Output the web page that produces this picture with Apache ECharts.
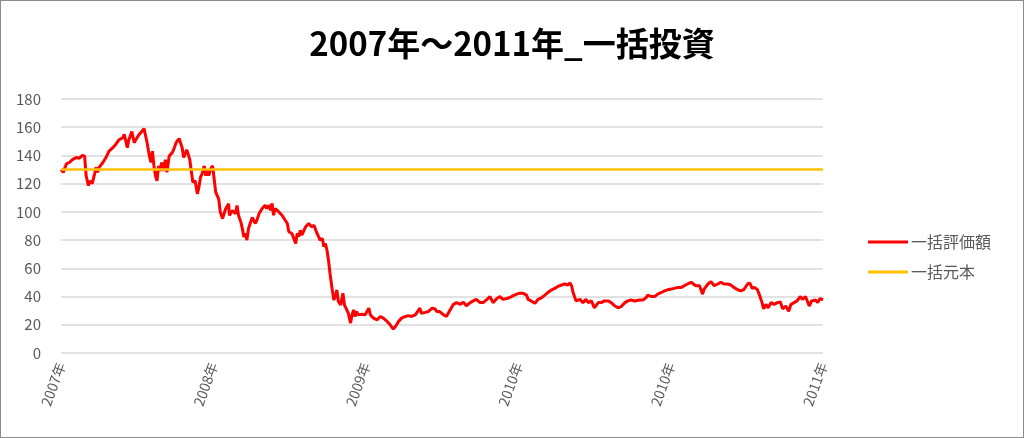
<!DOCTYPE html>
<html>
<head>
<meta charset="utf-8">
<script src="https://cdn.jsdelivr.net/npm/echarts@6/dist/echarts.min.js"></script>
<style>
  html, body { margin: 0; padding: 0; background: #fff; }
  #chart { width: 1024px; height: 438px; box-sizing: border-box; border: 1px solid #8c8c8c; }
</style>
</head>
<body>
<div id="chart"></div>
<script>
// 営業日番号 (0〜1000)
const days = [
  0, 3, 7, 11, 15, 20, 24, 28, 31, 33, 36, 38, 41, 44, 46, 48, 50, 55, 59, 63,
  68, 72, 76, 81, 83, 85, 87, 89, 93, 96, 98, 102, 106, 109, 111, 113, 116, 118, 120, 122,
  124, 126, 128, 130, 132, 134, 137, 139, 142, 146, 148, 151, 155, 157, 159, 161, 165, 167, 169, 171,
  173, 176, 179, 181, 183, 185, 188, 190, 192, 194, 196, 199, 201, 203, 205, 207, 209, 212, 214, 216,
  220, 221, 225, 229, 231, 233, 236, 238, 240, 242, 244, 246, 249, 251, 255, 257, 260, 264, 268, 270,
  273, 275, 277, 279, 281, 286, 290, 292, 297, 299, 303, 308, 310, 312, 314, 316, 321, 325, 329, 332,
  334, 336, 338, 340, 343, 345, 347, 349, 351, 353, 356, 358, 360, 362, 364, 367, 370, 372, 374, 377,
  380, 382, 384, 386, 388, 390, 395, 399, 404, 406, 410, 415, 419, 423, 428, 432, 436, 439, 443, 447,
  452, 456, 460, 465, 467, 471, 473, 478, 482, 487, 491, 493, 497, 502, 506, 511, 515, 519, 524, 528,
  532, 537, 541, 545, 550, 554, 559, 563, 567, 572, 576, 580, 585, 589, 593, 598, 602, 606, 611, 613,
  617, 622, 626, 631, 635, 639, 644, 648, 652, 657, 661, 665, 668, 670, 672, 674, 676, 678, 681, 685,
  689, 692, 696, 700, 705, 709, 713, 718, 722, 726, 731, 735, 740, 744, 748, 753, 755, 759, 764, 768,
  770, 775, 779, 783, 788, 792, 796, 801, 805, 809, 814, 818, 822, 827, 829, 833, 838, 842, 844, 849,
  853, 857, 862, 866, 870, 875, 879, 883, 888, 892, 896, 901, 904, 907, 910, 914, 917, 920, 922, 925,
  928, 932, 936, 940, 944, 947, 951, 955, 958, 962, 966, 970, 973, 977, 982, 985, 990, 993, 996, 1000
];
// 一括評価額
const lumpValue = [
  130, 128, 134, 135, 137, 138.5, 138, 140, 139.5, 125.6, 118.6, 122, 120, 126.8, 131.5, 128, 131.5, 135, 138.5, 143,
  145.5, 148, 151, 152.5, 155, 156, 145.5, 151, 157, 149, 151, 154.5, 157, 159, 158.5, 149, 139.6, 135, 143, 132.6,
  125.6, 122, 132.6, 129, 135, 129, 137, 128, 139.6, 142, 144.3, 149, 152, 151.5, 145.5, 138.5, 144, 140.8, 137, 129,
  121, 122, 112.7, 117.5, 124.4, 126.8, 132.6, 125.6, 130, 125.6, 130, 132.6, 123.3, 114, 112.7, 109, 100, 95.2, 98.7, 102,
  105.7, 97.5, 101, 98.7, 104.6, 97.5, 92.9, 88.2, 82.3, 84.7, 80, 88, 93, 96, 91.8, 94, 98.8, 102.4, 104.7, 102.4,
  104.7, 101.2, 106, 97.6, 102.4, 100, 97.6, 98.8, 91.8, 85.9, 84.7, 77.6, 84.7, 82.4, 87, 83.5, 89.4, 91.8, 89.4, 90.6,
  89.4, 84.7, 82.4, 80, 81.2, 75.3, 77.6, 73, 65.9, 56.5, 44.7, 37.6, 40, 44.7, 36.5, 34, 42.4, 34, 31.8, 28.2,
  21.2, 27, 30.6, 25.9, 29.4, 27, 27.5, 27, 31.8, 27, 24.7, 23.5, 25.9, 24.7, 22.4, 20, 17, 18.8, 22.4, 24.7,
  25.9, 26.5, 25.9, 27, 28.2, 31.8, 28.2, 28.8, 29.4, 31.8, 31.2, 29.4, 29.4, 27, 26, 30.8, 34.5, 35.7, 34.5, 36,
  33.5, 35.7, 36.9, 38, 35.7, 35.7, 38, 40, 35.7, 38.6, 40, 38, 38.6, 39.3, 40.5, 41.7, 42.4, 42.4, 41, 38,
  36.9, 35.2, 38, 39.3, 41, 42.9, 44.8, 45.8, 47.2, 48.2, 48.9, 48.2, 49.6, 47.7, 42.9, 44, 36.9, 35.7, 38, 35.7,
  38, 35.7, 36.9, 32, 35.7, 35.7, 36.9, 36.9, 35.7, 33.7, 32, 32.8, 35.7, 36.9, 37.6, 36.9, 36.9, 37.6, 37.6, 39.3,
  41, 40, 40, 41.7, 42.9, 44, 44.8, 45.3, 45.8, 46.5, 46.5, 47.7, 48.9, 50.1, 49.6, 47.7, 47.7, 41.7, 45.3, 48.9,
  50.6, 47.7, 48.9, 50.1, 48.9, 48.9, 48.2, 46.5, 44.8, 44.1, 44.8, 48.9, 49.6, 45.8, 46.5, 44.8, 40.5, 35.7, 31.3, 34.5,
  32, 35.7, 34.5, 35.7, 36.1, 31.3, 33.3, 29.6, 34.5, 35.7, 36.9, 40, 38, 40, 33.3, 36.9, 37.6, 35.7, 38.6, 37.6
];
// 一括元本
const principal = 130;
const tickLabels = ['2007年', '2008年', '2009年', '2010年', '2010年', '2011年'];

const font = '"Noto Sans CJK JP", "Noto Sans", sans-serif';
const chart = echarts.init(document.getElementById('chart'));
chart.setOption({
  animation: false,
  textStyle: { fontFamily: font },
  title: {
    text: '2007年～2011年_一括投資',
    left: 'center',
    top: 21,
    textStyle: { fontFamily: font, fontSize: 33, fontWeight: 'bold', color: '#000' }
  },
  legend: {
    orient: 'vertical',
    left: 862,
    top: 228,
    itemGap: 14,
    icon: 'rect',
    itemWidth: 40,
    itemHeight: 3,
    textStyle: { fontFamily: font, fontSize: 16, color: '#595959', padding: [0, 0, 0, -2] },
    data: ['一括評価額', '一括元本']
  },
  grid: { left: 60, right: 200, top: 98, bottom: 84 },
  xAxis: {
    type: 'value',
    min: 0,
    max: 1000,
    interval: 200,
    axisLine: { show: false },
    axisTick: { show: false },
    splitLine: { show: false },
    axisLabel: {
      rotate: 70,
      margin: 10,
      fontSize: 14,
      color: '#595959',
      formatter: v => tickLabels[Math.round(v / 200)]
    }
  },
  yAxis: {
    type: 'value',
    min: 0,
    max: 180,
    interval: 20,
    axisLine: { show: false },
    axisTick: { show: false },
    axisLabel: { fontSize: 15, color: '#595959', margin: 20 },
    splitLine: { lineStyle: { color: '#d9d9d9', width: 1.5 } }
  },
  series: [
    {
      name: '一括評価額',
      type: 'line',
      showSymbol: false,
      color: '#ff0000',
      lineStyle: { width: 3, color: '#ff0000' },
      data: days.map((d, i) => [d, lumpValue[i]])
    },
    {
      name: '一括元本',
      type: 'line',
      showSymbol: false,
      color: '#ffc000',
      lineStyle: { width: 2.5, color: '#ffc000' },
      z: 3,
      data: [[days[0], principal], [days[days.length - 1], principal]]
    }
  ]
});
</script>
</body>
</html>
